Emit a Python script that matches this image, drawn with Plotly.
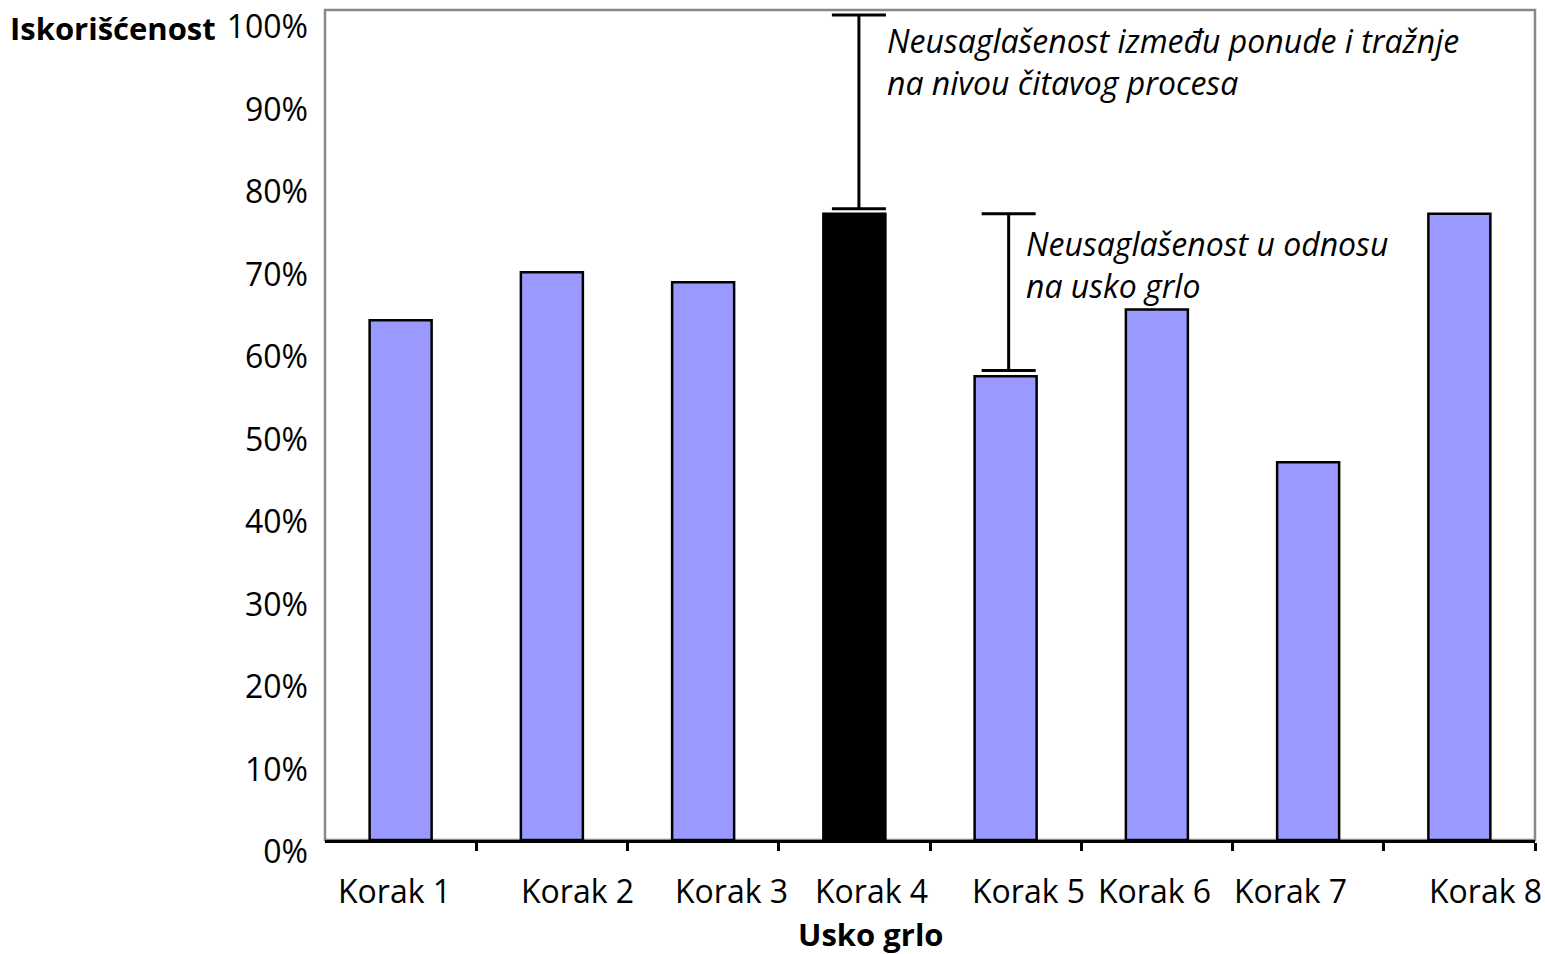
import plotly.graph_objects as go

# Utilization per process step
steps = ["Korak 1", "Korak 2", "Korak 3", "Korak 4", "Korak 5", "Korak 6", "Korak 7", "Korak 8"]
utilization = [63.0, 68.8, 67.6, 75.9, 56.2, 64.3, 45.8, 75.9]
bottleneck_index = 3

# Mismatch brackets: (step index, lower %, upper %)
mismatch_process = (3, 76.5, 100.0)
mismatch_bottleneck = (4, 56.9, 75.9)

# label offsets in px for the category names
label_xshift = [-6, 26, 28, 17, 23, -2, -18, 26]

FONT = "Open Sans"
SIZE = 32
x = list(range(1, len(steps) + 1))
colors = ["#000000" if i == bottleneck_index else "#9999FF" for i in range(len(steps))]

# plot-area pixel geometry, used to place the axis titles
W, H = 1545, 954
ML, MR, MT, MB = 325, 10, 10, 114
PW, PH = W - ML - MR, H - MT - MB


def px_to_paper(px, py):
    return (px - ML) / PW, (H - MB - py) / PH


fig = go.Figure()
fig.add_trace(go.Bar(
    x=x, y=utilization, width=0.41,
    marker=dict(color=colors, line=dict(color="#000000", width=2.5)),
    showlegend=False, hoverinfo="skip",
))

for idx, lo, hi in (mismatch_process, mismatch_bottleneck):
    fig.add_trace(go.Scatter(
        x=[x[idx] + (0.03 if idx == 3 else 0.02)], y=[lo], mode="markers",
        marker=dict(size=1, color="rgba(0,0,0,0)"),
        error_y=dict(type="data", symmetric=False, array=[hi - lo], arrayminus=[0],
                     color="#000000", thickness=3, width=27),
        showlegend=False, hoverinfo="skip",
    ))

annotations = []
for i, s in enumerate(steps):
    annotations.append(dict(
        x=x[i], y=0, xref="x", yref="y", text=s, showarrow=False,
        yshift=-50, xshift=label_xshift[i], font=dict(family=FONT, size=SIZE, color="#000"),
    ))

ytx, yty = px_to_paper(218, 28)
xtx, xty = px_to_paper(871, 934)
annotations += [
    dict(x=x[mismatch_process[0]] + 0.2, y=mismatch_process[2], xref="x", yref="y",
         xanchor="left", yanchor="top", yshift=-2, align="left", showarrow=False,
         text="<i>Neusaglašenost između ponude i tražnje<br>na nivou čitavog procesa</i>",
         font=dict(family=FONT, size=SIZE, color="#000")),
    dict(x=x[mismatch_bottleneck[0]] + 0.12, y=mismatch_bottleneck[2], xref="x", yref="y",
         xanchor="left", yanchor="top", yshift=-6, align="left", showarrow=False,
         text="<i>Neusaglašenost u odnosu<br>na usko grlo</i>",
         font=dict(family=FONT, size=SIZE, color="#000")),
    dict(x=ytx, y=yty, xref="paper", yref="paper", xanchor="right", yanchor="middle",
         showarrow=False, text="<b>Iskorišćenost</b>",
         font=dict(family=FONT, size=31, color="#000")),
    dict(x=xtx, y=xty, xref="paper", yref="paper", xanchor="center", yanchor="middle",
         showarrow=False, text="<b>Usko grlo</b>", font=dict(family=FONT, size=31, color="#000")),
]

fig.update_layout(
    width=W, height=H,
    margin=dict(l=ML, r=MR, t=MT, b=MB, autoexpand=False),
    paper_bgcolor="white", plot_bgcolor="white",
    font=dict(family=FONT, size=SIZE, color="#000"),
    annotations=annotations,
    shapes=[dict(type="rect", xref="paper", yref="paper", x0=0, x1=1, y0=0, y1=1,
                 line=dict(color="#888888", width=2.5), layer="below")],
)

fig.update_xaxes(
    range=[0.5, len(steps) + 0.5], tickvals=[v + 0.5 for v in x], ticktext=[""] * len(steps),
    ticks="outside", ticklen=8, tickwidth=2.5, tickcolor="#000", automargin=False,
    showline=True, linecolor="#000", linewidth=2.5, showgrid=False, zeroline=False,
)
fig.update_yaxes(
    range=[0, 100.6], tickvals=list(range(0, 101, 10)),
    ticktext=[f"{v}%" for v in range(0, 101, 10)], automargin=False,
    ticks="", showline=False, showgrid=False, zeroline=False,
    ticklabelshift=12, ticklabelstandoff=16,
)

fig.write_html("out.html")
